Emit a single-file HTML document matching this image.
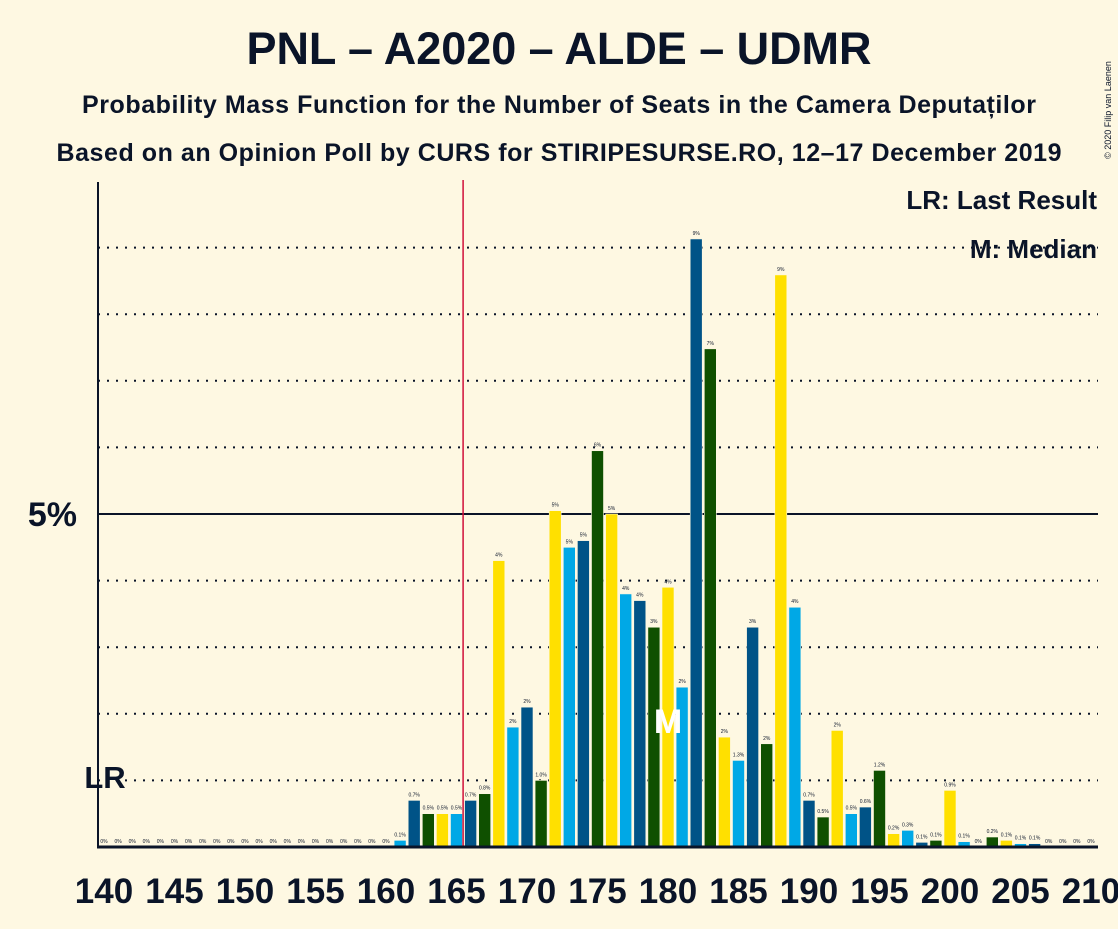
<!DOCTYPE html>
<html><head><meta charset="utf-8"><style>
body{margin:0;background:#fef8e2;font-family:"Liberation Sans",sans-serif;}
</style></head><body>
<svg id="c" width="1118" height="924" xmlns="http://www.w3.org/2000/svg">
<rect width="1118" height="924" fill="#fef8e2"/>
<text x="559" y="64" text-anchor="middle" font-size="45" font-weight="bold" fill="#0a1428" textLength="625">PNL – A2020 – ALDE – UDMR</text>
<text x="559" y="113" text-anchor="middle" font-size="25" font-weight="bold" fill="#0a1428" textLength="954">Probability Mass Function for the Number of Seats in the Camera Deputaților</text>
<text x="559" y="161" text-anchor="middle" font-size="25" font-weight="bold" fill="#0a1428" textLength="1005">Based on an Opinion Poll by CURS for STIRIPESURSE.RO, 12–17 December 2019</text>
<text x="1111" y="110" font-size="9" fill="#0a1428" transform="rotate(-90 1111 110)" text-anchor="middle">© 2020 Filip van Laenen</text>
<g id="grid"></g><g id="bars"></g><g id="axes"></g>
<text x="1097" y="209" text-anchor="end" font-size="26" font-weight="bold" fill="#0a1428">LR: Last Result</text>
<text x="1097" y="258" text-anchor="end" font-size="26" font-weight="bold" fill="#0a1428">M: Median</text>
</svg>
<script>
const seats=[];for(let s=140;s<=210;s++)seats.push(s);
const values=[0,0,0,0,0,0,0,0,0,0,0,0,0,0,0,0,0,0,0,0,0,0.1,0.7,0.5,0.5,0.5,0.7,0.8,4.3,1.8,2.1,1.0,5.05,4.5,4.6,5.95,5.0,3.8,3.7,3.3,3.9,2.4,9.13,7.48,1.65,1.3,3.3,1.55,8.59,3.6,0.7,0.45,1.75,0.5,0.6,1.15,0.2,0.25,0.07,0.1,0.85,0.08,0,0.15,0.1,0.05,0.05,0,0,0,0];
const labels=["0%","0%","0%","0%","0%","0%","0%","0%","0%","0%","0%","0%","0%","0%","0%","0%","0%","0%","0%","0%","0%","0.1%","0.7%","0.5%","0.5%","0.5%","0.7%","0.8%","4%","2%","2%","1.0%","5%","5%","5%","6%","5%","4%","4%","3%","4%","2%","9%","7%","2%","1.3%","3%","2%","9%","4%","0.7%","0.5%","2%","0.5%","0.6%","1.2%","0.2%","0.3%","0.1%","0.1%","0.9%","0.1%","0%","0.2%","0.1%","0.1%","0.1%","0%","0%","0%","0%"];
const xTicks=[140,145,150,155,160,165,170,175,180,185,190,195,200,205,210];
const gridVals=[1,2,3,4,6,7,8,9];
const lastResult=166, median=180;
const X=s=>104+(s-140)*14.1;
const Y=v=>847-v*66.6;
const NS="http://www.w3.org/2000/svg";
function mk(t,a,p){const e=document.createElementNS(NS,t);for(const k in a)e.setAttribute(k,a[k]);p.appendChild(e);return e;}
const g=document.getElementById('grid'),b=document.getElementById('bars'),ax=document.getElementById('axes');
gridVals.forEach(v=>{const l=mk('line',{x1:98,x2:1098,y1:Y(v),y2:Y(v),stroke:'#0a1428','stroke-width':2,'stroke-dasharray':'2,7'},g);

});
const l5=mk('line',{x1:98,x2:1098,y1:Y(5),y2:Y(5),stroke:'#0a1428','stroke-width':2},g);


const cols=['#ffe000','#00a8e6','#005387','#0f5000'];
seats.forEach((s,i)=>{const v=values[i];const c=cols[s%4];
const r=mk('rect',{x:X(s)-6,y:Y(v),width:12,height:847-Y(v),fill:c,stroke:'#fef8e2','stroke-width':0.6},b);


const t=mk('text',{x:X(s),y:Y(v)-4,'text-anchor':'middle','font-size':5,fill:'#0a1428'},b);t.textContent=labels[i];

});
const rl=mk('line',{x1:X(lastResult)-7.5,x2:X(lastResult)-7.5,y1:180,y2:847,stroke:'#d0103a','stroke-width':1.5},ax);


const yl=mk('line',{x1:98,x2:98,y1:182,y2:848,stroke:'#0a1428','stroke-width':2},ax);


const xl=mk('line',{x1:97,x2:1098,y1:847,y2:847,stroke:'#0a1428','stroke-width':3},ax);


xTicks.forEach(s=>{const t=mk('text',{x:X(s),y:903,'text-anchor':'middle','font-size':35,'font-weight':'bold',fill:'#0a1428'},ax);t.textContent=s;

});
const yt=mk('text',{x:77,y:526,'text-anchor':'end','font-size':34,'font-weight':'bold',fill:'#0a1428'},ax);yt.textContent='5%';


const lr=mk('text',{x:105,y:788,'text-anchor':'middle','font-size':31,'font-weight':'bold',fill:'#0a1428'},ax);lr.textContent='LR';


const m=mk('text',{x:X(median),y:733,'text-anchor':'middle','font-size':34,'font-weight':'bold',fill:'#fff'},ax);m.textContent='M';


</script>
</body></html>
